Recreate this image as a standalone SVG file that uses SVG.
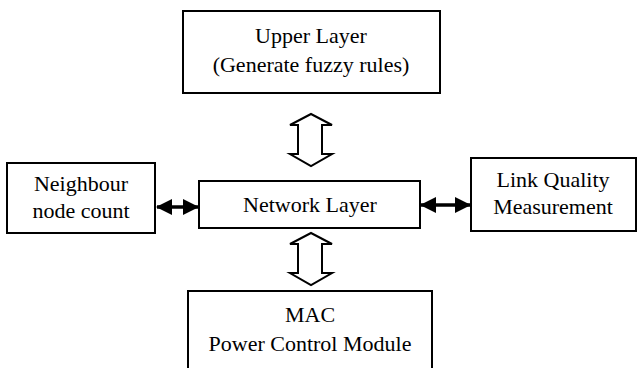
<svg xmlns="http://www.w3.org/2000/svg" width="637" height="368" viewBox="0 0 637 368">
<defs>
<style>
.box{fill:#fff;stroke:#000;stroke-width:2}
.t{font-family:"Liberation Serif","Times New Roman",serif;font-size:22px;fill:#000;text-anchor:middle}
.big{fill:#fff;stroke:#000;stroke-width:2;stroke-linejoin:miter}
.line{stroke:#000;stroke-width:3.5;fill:none}
</style>
<marker id="ah" viewBox="0 0 16 16" refX="15" refY="8" markerWidth="16" markerHeight="16" markerUnits="userSpaceOnUse" orient="auto-start-reverse">
<path d="M0,0 L16,8 L0,16 Z" fill="#000"/>
</marker>
</defs>
<rect width="637" height="368" fill="#fff"/>
<g id="upper">
<rect class="box" x="183" y="11" width="257" height="82"/>
<text class="t" x="311" y="43">Upper Layer</text>
<text class="t" x="311" y="72">(Generate fuzzy rules)</text>
</g>
<g id="neighbour">
<rect class="box" x="7" y="163" width="148" height="70"/>
<text class="t" x="81" y="191">Neighbour</text>
<text class="t" x="81" y="218">node count</text>
</g>
<g id="network">
<rect class="box" x="199" y="181" width="221" height="47"/>
<text class="t" x="310" y="212">Network Layer</text>
</g>
<g id="link">
<rect class="box" x="471" y="158" width="165" height="73"/>
<text class="t" x="553" y="187">Link Quality</text>
<text class="t" x="553" y="214">Measurement</text>
</g>
<g id="mac">
<rect class="box" x="188" y="291" width="244" height="80"/>
<text class="t" x="310" y="322">MAC</text>
<text class="t" x="310" y="351">Power Control Module</text>
</g>
<g id="connectors">
<path class="big" d="M311,114 L332,125 L322,125 L322,154 L332,154 L311,166 L290,154 L298,154 L298,125 L290,125 Z"/>
<path class="big" d="M311,233 L332,244 L322,244 L322,273 L332,273 L311,285 L290,273 L298,273 L298,244 L290,244 Z"/>
<line class="line" x1="157" y1="207" x2="198" y2="207" marker-start="url(#ah)" marker-end="url(#ah)"/>
<line class="line" x1="421" y1="205" x2="470" y2="205" marker-start="url(#ah)" marker-end="url(#ah)"/>
</g>
</svg>
